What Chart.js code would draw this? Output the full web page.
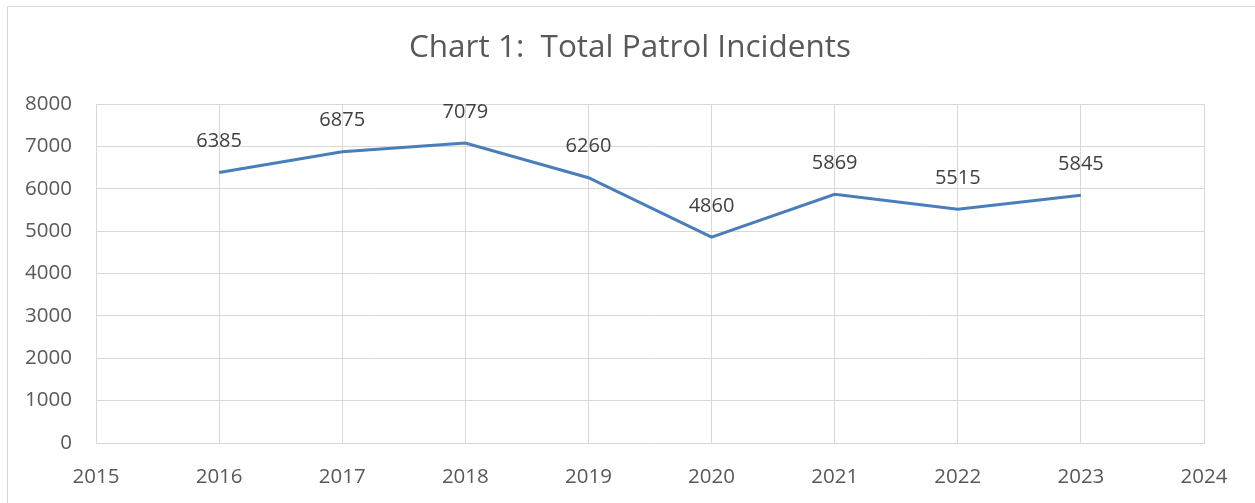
<!DOCTYPE html>
<html>
<head>
<meta charset="utf-8">
<script src="https://cdn.jsdelivr.net/npm/chart.js@4.4.1/dist/chart.umd.min.js"></script>
<style>
    html, body { margin: 0; padding: 0; background: #ffffff; }
    #frame {
        position: absolute;
        left: 7px;
        top: 6px;
        width: 1270px;
        height: 520px;
        border: 1px solid #d9d9d9;
    }
    #wrap { position: absolute; left: 0; top: 0; width: 1255px; height: 503px; }
</style>
</head>
<body>
<div id="frame"></div>
<div id="wrap"><canvas id="patrolChart" width="1255" height="503"></canvas></div>
<script>
const years = [2016, 2017, 2018, 2019, 2020, 2021, 2022, 2023];
const incidents = [6385, 6875, 7079, 6260, 4860, 5869, 5515, 5845];
const chartTitle = "Chart 1:  Total Patrol Incidents";

const FONT = "'Open Sans', 'Noto Sans', sans-serif";

// title centred on the whole frame, and the value above each point
const textLayer = {
    id: "textLayer",
    afterDatasetsDraw(chart) {
        const ctx = chart.ctx;
        const meta = chart.getDatasetMeta(0);
        ctx.save();
        ctx.textAlign = "center";
        ctx.textBaseline = "middle";

        ctx.font = "31.5px " + FONT;
        ctx.fillStyle = "#595959";
        ctx.fillText(chartTitle, 630, 48);

        ctx.font = "20px " + FONT;
        ctx.fillStyle = "#404040";
        meta.data.forEach((pt, i) => {
            ctx.fillText(String(incidents[i]), pt.x, pt.y - 31);
        });
        ctx.restore();
    }
};

new Chart(document.getElementById("patrolChart"), {
    type: "line",
    data: {
        datasets: [
            {
                label: "Total Patrol Incidents",
                data: years.map((y, i) => ({ x: y, y: incidents[i] })),
                borderColor: "#4a7ebb",
                borderWidth: 3,
                pointRadius: 0,
                tension: 0,
                fill: false
            }
        ]
    },
    options: {
        responsive: false,
        animation: false,
        layout: { padding: { left: 0, right: 51, top: 104, bottom: 0 } },
        plugins: {
            legend: { display: false },
            tooltip: { enabled: false },
            title: { display: false }
        },
        scales: {
            x: {
                type: "linear",
                min: 2015,
                max: 2024,
                afterFit(scale) { scale.height = 60; },
                ticks: {
                    stepSize: 1,
                    padding: 22,
                    color: "#595959",
                    font: { family: FONT, size: 20.5 },
                    callback: v => String(v)
                },
                grid: { color: "#d9d9d9", lineWidth: 1, drawTicks: false },
                border: { color: "#d9d9d9", width: 1 }
            },
            y: {
                min: 0,
                max: 8000,
                afterFit(scale) { scale.width = 96; },
                ticks: {
                    stepSize: 1000,
                    padding: 24,
                    color: "#595959",
                    font: { family: FONT, size: 20.5 },
                    callback: v => String(v)
                },
                grid: { color: "#d9d9d9", lineWidth: 1, drawTicks: false },
                border: { color: "#d9d9d9", width: 1 }
            }
        }
    },
    plugins: [textLayer]
});
</script>
</body>
</html>
